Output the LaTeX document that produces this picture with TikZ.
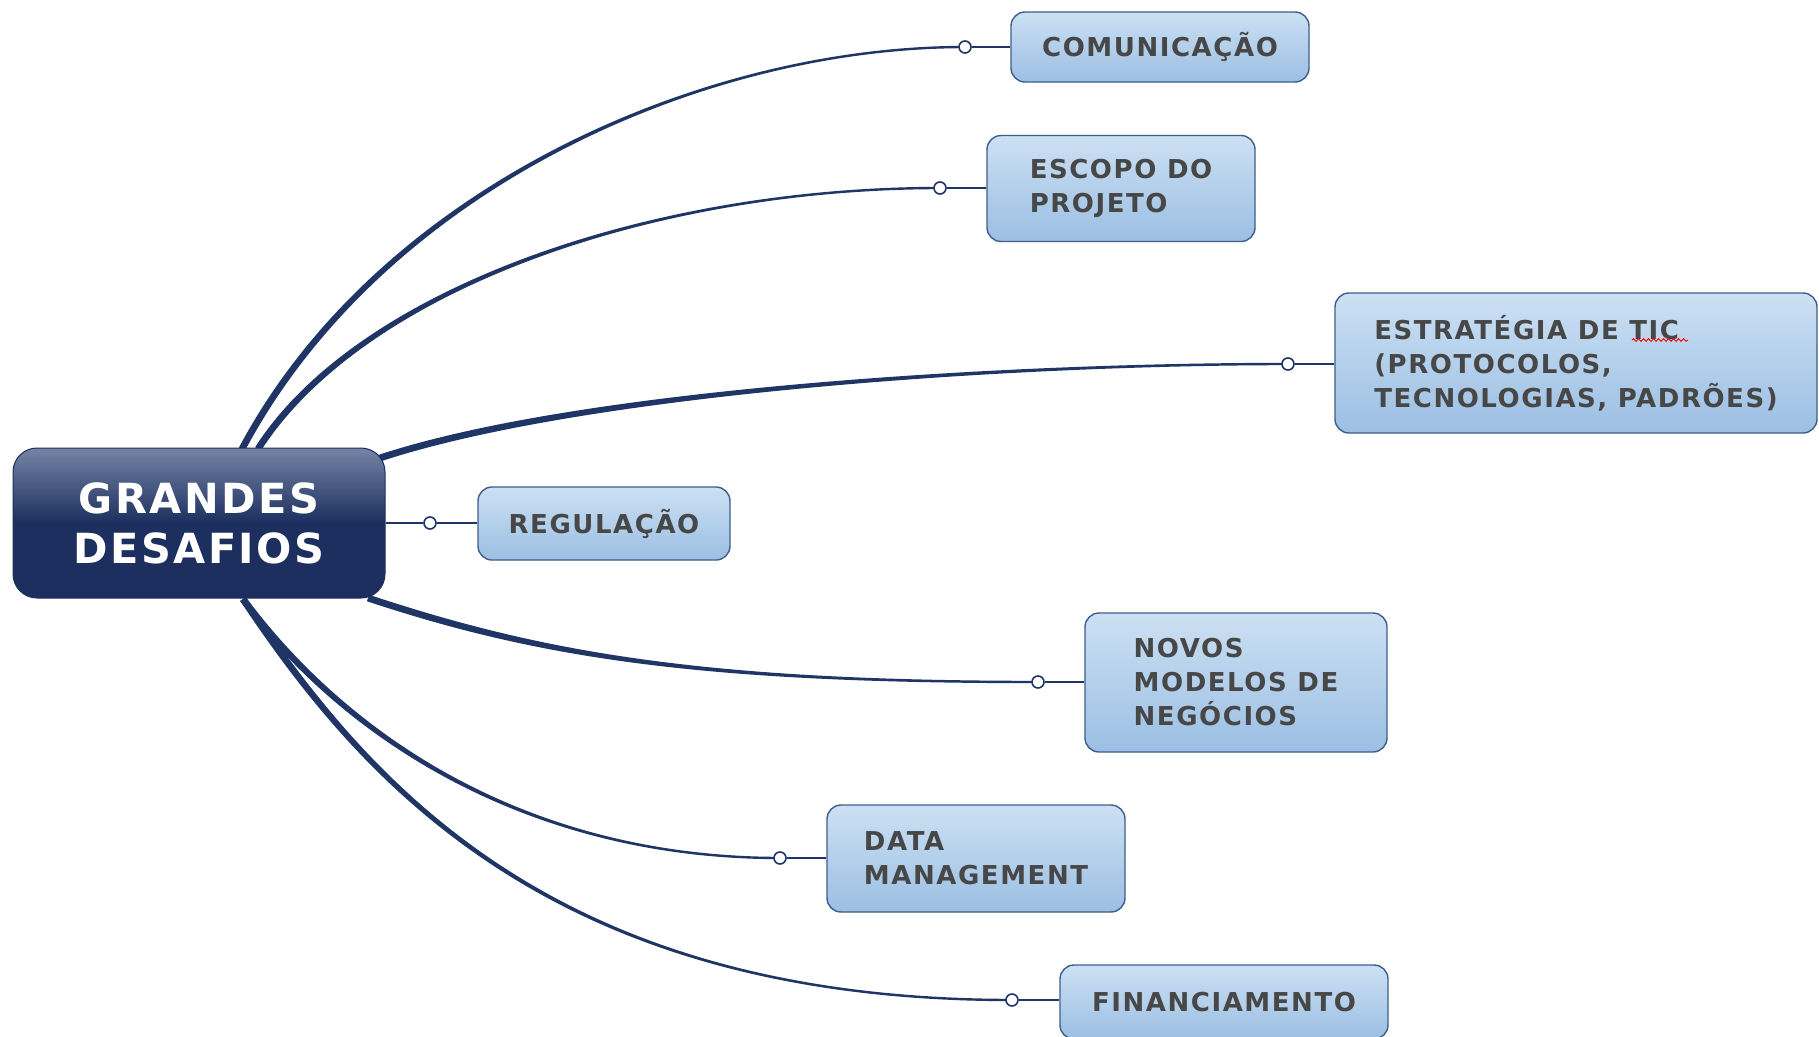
\documentclass[tikz,border=0pt]{standalone}
\usepackage{fontspec}
\setmainfont{DejaVu Sans}[LetterSpace=6]
\usetikzlibrary{calc,decorations.pathmorphing}
\definecolor{linecol}{HTML}{1F3566}
\definecolor{boxtop}{HTML}{CCE0F3}
\definecolor{boxbot}{HTML}{9BBFE3}
\definecolor{boxborder}{HTML}{3F5E8C}
\definecolor{txtgrey}{HTML}{474747}
\definecolor{cdark}{HTML}{1C2F5E}
\definecolor{clight}{HTML}{7584A6}
\newcommand\taper[4]{%
  \fill[linecol] ($(#1)!3.4pt!90:(#2)$) .. controls ($(#2)!3.4pt!-90:(#1)$) and ($(#3)!1.2pt!90:(#4)$) .. ($(#4)!1.2pt!-90:(#3)$)
    -- ($(#4)!1.2pt!90:(#3)$) .. controls ($(#3)!1.2pt!-90:(#4)$) and ($(#2)!3.4pt!90:(#1)$) .. ($(#1)!3.4pt!-90:(#2)$) -- cycle;}
\tikzset{
  childbox/.style={draw=boxborder, line width=1.4pt, rounded corners=14pt, top color=boxtop, bottom color=boxbot,
    text=txtgrey, font=\fontsize{26}{34}\selectfont\bfseries, align=left, inner sep=0pt},
  centralbox/.style={draw=cdark, line width=1pt, rounded corners=24pt, top color=clight, bottom color=cdark, middle color=cdark,
    text=white, font=\fontsize{41.5}{50}\selectfont\bfseries, align=center, inner sep=0pt, minimum width=372pt, minimum height=150pt},
  dot/.style={circle, draw=linecol, fill=white, line width=1.6pt, inner sep=0pt, minimum size=12pt},
  link/.style={draw=linecol, line width=2.2pt},
  spellwave/.style={draw=red, line width=0.9pt, decorate, decoration={snake, amplitude=1.3pt, segment length=5pt}}
}
\begin{document}
\begin{tikzpicture}[x=1pt, y=-1pt]
\fill[white] (0,0) rectangle (1819,1036);
\useasboundingbox (0,0) rectangle (1819,1036);
% control coordinates
\coordinate (s1) at (242,449); \coordinate (c11) at (380,190); \coordinate (c12) at (700,47);
\coordinate (s2) at (258,449); \coordinate (c21) at (360,290); \coordinate (c22) at (650,188);
\coordinate (s3) at (380,458); \coordinate (c31) at (580,392); \coordinate (c32) at (1000,364);
\coordinate (s5) at (368,598); \coordinate (c51) at (540,655); \coordinate (c52) at (700,682);
\coordinate (s6) at (243,599); \coordinate (c61) at (340,730); \coordinate (c62) at (520,858);
\coordinate (s7) at (243,599); \coordinate (c71) at (370,790); \coordinate (c72) at (560,1000);
\coordinate (e1) at (965,47);
\coordinate (e2) at (940,188);
\coordinate (e3) at (1288,364);
\coordinate (e5) at (1038,682);
\coordinate (e6) at (780,858);
\coordinate (e7) at (1012,1000);
% tapered branches
\taper{s1}{c11}{c12}{e1}
\taper{s2}{c21}{c22}{e2}
\taper{s3}{c31}{c32}{e3}
\taper{s5}{c51}{c52}{e5}
\taper{s6}{c61}{c62}{e6}
\taper{s7}{c71}{c72}{e7}
% boxes
\node[centralbox] (g) at (199,523) {GRANDES\\DESAFIOS};
\node[childbox, minimum width=298pt, minimum height=70pt] (com) at (1160,47) {COMUNICAÇÃO};
\node[childbox, minimum width=268pt, minimum height=106pt] (esc) at (1121,188.5) {ESCOPO DO\\PROJETO};
\node[childbox, minimum width=482pt, minimum height=140pt] (est) at (1576,363) {ESTRATÉGIA DE TIC\\(PROTOCOLOS,\\TECNOLOGIAS, PADRÕES)};
\node[childbox, minimum width=252pt, minimum height=73pt] (reg) at (604,523.5) {REGULAÇÃO};
\node[childbox, minimum width=302pt, minimum height=139pt] (nov) at (1236,682.5) {NOVOS\\MODELOS DE\\NEGÓCIOS};
\node[childbox, minimum width=298pt, minimum height=107pt] (dat) at (976,858.5) {DATA\\MANAGEMENT};
\node[childbox, minimum width=328pt, minimum height=74pt] (fin) at (1224,1002) {FINANCIAMENTO};
\coordinate (w1) at (1632,340); \coordinate (w2) at (1688,340);
\draw[spellwave] (w1) -- (w2);
% dots
\node[dot] (d1) at (e1) {};
\node[dot] (d2) at (e2) {};
\node[dot] (d3) at (e3) {};
\node[dot] (d4) at (430,523) {};
\node[dot] (d5) at (e5) {};
\node[dot] (d6) at (e6) {};
\node[dot] (d7) at (e7) {};
% short links
\draw[link] (d1) -- (d1 -| com.west);
\draw[link] (d2) -- (d2 -| esc.west);
\draw[link] (d3) -- (d3 -| est.west);
\draw[link] (d4 -| g.east) -- (d4);
\draw[link] (d4) -- (d4 -| reg.west);
\draw[link] (d5) -- (d5 -| nov.west);
\draw[link] (d6) -- (d6 -| dat.west);
\draw[link] (d7) -- (d7 -| fin.west);
\end{tikzpicture}
\end{document}
